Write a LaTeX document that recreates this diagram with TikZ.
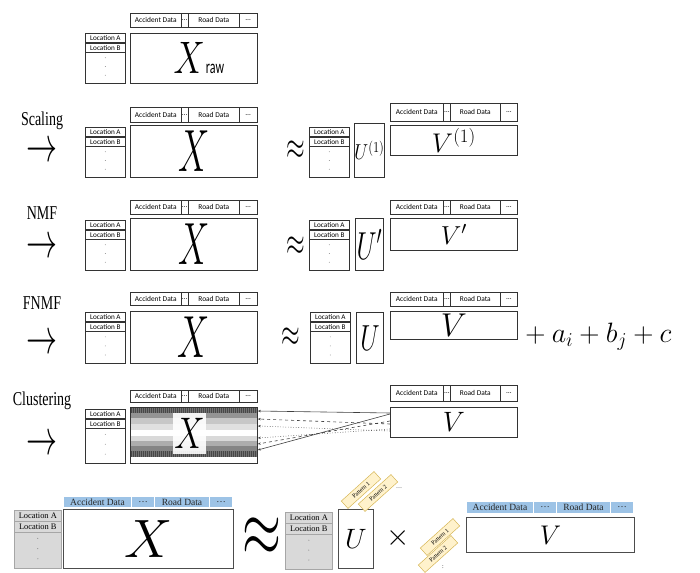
\RequirePackage{fix-cm}
\documentclass[tikz,border=0pt]{standalone}
\usepackage{fontspec}
\usepackage{graphicx}
\newfontfamily\hdrfont{Carlito}
\newfontfamily\tnrfont{Liberation Serif}
\usetikzlibrary{calc,arrows.meta}
\definecolor{hdrblue}{HTML}{9DC3E6}
\definecolor{locgray}{HTML}{D9D9D9}
\definecolor{tagfill}{HTML}{FFF2CC}
\definecolor{tagline}{HTML}{D6B656}
\newcommand\fsz[1]{\fontsize{#1}{#1}\selectfont}
\newcommand\ystr[2]{\scalebox{1}[#1]{#2}}

% one header strip: name, x, y, height, four cell widths, cell style
\newcommand\hdrrow[9]{%
  \node[#9, minimum width=#5, minimum height=#4] (#1a) at (#2,#3) {Accident Data};
  \node[#9, minimum width=#6, minimum height=#4] (#1b) at ({#2+#5},#3) {\ldots};
  \node[#9, minimum width=#7, minimum height=#4] (#1c) at ({#2+#5+#6},#3) {Road Data};
  \node[#9, minimum width=#8, minimum height=#4] (#1d) at ({#2+#5+#6+#7},#3) {\ldots};
}
% one location column: name, x, y, width, height, variant (top/bot)
\newcommand\loccol[6]{%
  \node[#6box, minimum width=#4, minimum height=#5] (#1) at (#2,#3) {};
  \node[#6cell, minimum width=#4] (#1a) at (#2,#3) {Location A};
  \node[#6cell, minimum width=#4] (#1b) at (#1a.south west) {Location B};
  \node[#6dot] (#1p) at ($(#1b.south)!0.17!(#1.south)$) {};
  \node[#6dot] (#1q) at ($(#1b.south)!0.45!(#1.south)$) {};
  \node[#6dot] (#1r) at ($(#1b.south)!0.73!(#1.south)$) {};
}

\tikzset{
  mbox/.style={draw=black!80, line width=0.8pt, inner sep=0pt, anchor=north west},
  hcell/.style={draw=black!80, line width=0.6pt, inner sep=0pt, anchor=north west,
    font=\hdrfont\fsz{7.4}},
  bcell/.style={draw=white, line width=1pt, fill=hdrblue, inner sep=0pt,
    anchor=north west, font=\tnrfont\fsz{9.5}, text=black!85},
  topbox/.style={draw=black!80, line width=0.7pt, anchor=north west, inner sep=0pt},
  topcell/.style={draw=black!80, line width=0.7pt, anchor=north west, inner sep=0pt,
    minimum height=9, font=\hdrfont\fsz{7.2}},
  topdot/.style={circle, fill=black!45, inner sep=0pt, minimum size=0.9pt},
  botbox/.style={draw=black!35, fill=locgray, line width=0.6pt, anchor=north west, inner sep=0pt},
  botcell/.style={draw=black!35, fill=locgray, line width=0.6pt, anchor=north west,
    inner sep=0pt, minimum height=10.5, font=\tnrfont\fsz{8.4}},
  botdot/.style={circle, fill=black!55, inner sep=0pt, minimum size=1pt},
  lbl/.style={font=\tnrfont\fsz{14}},
  arr/.style={font=\fsz{31}},
  approx/.style={font=\fsz{24}},
  carr/.style={draw=black!75, line width=0.6pt, -{Stealth[length=3pt,width=2.4pt]}},
  tag/.style={draw=tagline, fill=tagfill, line width=0.5pt, rotate=42,
    minimum width=44, minimum height=10, inner sep=0pt, font=\tnrfont\fsz{6}},
}

\begin{document}
\begin{tikzpicture}[x=1pt,y=-1pt]
\useasboundingbox (0,0) rectangle (700,572);

% ---------- raw data ----------
\hdrrow{h1}{130}{13}{14}{51}{7}{51}{18}{hcell}
\node[mbox, minimum width=127, minimum height=50] (X1) at (130,33)
  {\hspace{10pt}\fsz{35}\ystr{1.3}{$X$}\kern1pt\ystr{1.6}{\hdrfont\fsz{12}raw}};
\loccol{L1}{85}{33}{40}{50}{top}

% ---------- scaling ----------
\node[lbl] (s2) at (42,121) {\ystr{1.4}{Scaling}};
\node[arr] (a2) at (42,152) {\ystr{1.6}{$\rightarrow$}};
\hdrrow{h2}{130}{107}{15}{51}{7}{51}{18}{hcell}
\node[mbox, minimum width=127, minimum height=52, font=\fsz{35}] (X2) at (130,125) {\ystr{1.7}{$X$}};
\loccol{L2}{85}{127}{40}{50}{top}
\node[approx] (p2) at (296,150) {\ystr{1.6}{$\approx$}};
\loccol{M2}{309}{127}{40}{50}{top}
\node[mbox, minimum width=29, minimum height=54, font=\fsz{18}] (U2) at (354,123) {\ystr{1.2}{$U^{(1)}$}};
\hdrrow{g2}{390}{103}{18}{53}{7}{50}{17}{hcell}
\node[mbox, minimum width=127, minimum height=30, font=\fsz{27}] (V2) at (390,125) {$V^{(1)}$};

% ---------- NMF ----------
\node[lbl] (s3) at (42,213) {\ystr{1.4}{NMF}};
\node[arr] (a3) at (42,248) {\ystr{1.6}{$\rightarrow$}};
\hdrrow{h3}{130}{200}{14}{51}{7}{51}{18}{hcell}
\node[mbox, minimum width=127, minimum height=52, font=\fsz{35}] (X3) at (130,218) {\ystr{1.7}{$X$}};
\loccol{L3}{85}{220}{40}{50}{top}
\node[approx] (p3) at (296,246) {\ystr{1.6}{$\approx$}};
\loccol{M3}{309}{220}{40}{50}{top}
\node[mbox, minimum width=28, minimum height=52, font=\fsz{26}] (U3) at (355,218) {\ystr{1.5}{$U'$}};
\hdrrow{g3}{390}{200}{14}{53}{7}{50}{17}{hcell}
\node[mbox, minimum width=127, minimum height=32, font=\fsz{26}] (V3) at (390,218) {$V'$};

% ---------- FNMF ----------
\node[lbl] (s4) at (42,303) {\ystr{1.4}{FNMF}};
\node[arr] (a4) at (42,344) {\ystr{1.6}{$\rightarrow$}};
\hdrrow{h4}{130}{292}{13}{51}{7}{51}{18}{hcell}
\node[mbox, minimum width=127, minimum height=52, font=\fsz{36}] (X4) at (130,311) {\ystr{1.65}{$X$}};
\loccol{L4}{85}{312}{40}{51}{top}
\node[approx] (p4) at (291,337) {\ystr{1.6}{$\approx$}};
\loccol{M4}{310}{312}{40}{51}{top}
\node[mbox, minimum width=27, minimum height=51, font=\fsz{25}] (U4) at (356,312) {\ystr{1.45}{$U$}};
\hdrrow{g4}{390}{292}{14}{53}{7}{50}{17}{hcell}
\node[mbox, minimum width=127, minimum height=28, font=\fsz{33}] (V4) at (390,311) {$V$};
\node[anchor=base west, font=\fsz{28}, inner sep=0pt] (bias) at (519,342) {${}+a_i+b_j+c$};

% ---------- clustering ----------
\node[lbl] (s5) at (42,401) {\ystr{1.4}{Clustering}};
\node[arr] (a5) at (42,445) {\ystr{1.6}{$\rightarrow$}};
\hdrrow{h5}{130}{390}{12}{51}{7}{51}{18}{hcell}
% grey bands of the clustered rows
\foreach \ya/\yb/\c in {407/413/55, 413/418/42, 418/424/22, 424/430/12, 430/436/0,
                        436/441/15, 441/446/32, 446/451/48, 451/457/55, 457/463/0}
  \fill[black!\c] (130,\ya) rectangle (257,\yb);
\foreach \xx in {131,133,...,256} {
  \draw[black!72, line width=0.4pt] (\xx,407) -- (\xx,413);
  \draw[black!72, line width=0.4pt] (\xx,451) -- (\xx,457);
}
\node[mbox, minimum width=127, minimum height=56] (X5) at (130,407) {};
\node[fill=white, fill opacity=0.9, text opacity=1, inner sep=0pt,
      minimum width=33, minimum height=41, font=\fsz{34}] (X5t) at (189.5,433.5) {\ystr{1.3}{$X$}};
\loccol{L5}{85}{409}{40}{54}{top}
\hdrrow{g5}{390}{385}{16}{53}{7}{50}{17}{hcell}
\node[mbox, minimum width=127, minimum height=30, font=\fsz{28}] (V5) at (390,407) {$V$};
\draw[carr] ($(V5.north west)+(0,6)$)  -- ($(X5.north east)+(0,4)$);
\draw[carr, dashed] ($(V5.north west)+(0,17)$) -- ($(X5.north east)+(0,12)$);
\draw[carr, dotted] ($(V5.north west)+(0,24)$) -- ($(X5.north east)+(0,19)$);
\draw[carr, dotted] ($(V5.north west)+(0,22)$) -- ($(X5.north east)+(0,31)$);
\draw[carr, dashed] ($(V5.north west)+(0,14)$) -- ($(X5.north east)+(0,37)$);
\draw[carr] ($(V5.north west)+(0,7)$)  -- ($(X5.north east)+(0,43)$);

% ---------- factor model ----------
\hdrrow{h6}{63}{496}{11}{68}{23}{55}{23}{bcell}
\node[mbox, draw=black!70, minimum width=170, minimum height=59, font=\fsz{54}] (X6) at (63,509) {$X$};
\loccol{L6}{14}{510}{47}{58}{bot}
\node[font=\fsz{50}] (p6) at (262,537) {\ystr{1.6}{$\approx$}};
\loccol{M6}{285}{512}{47}{57}{bot}
\node[mbox, draw=black!70, minimum width=35, minimum height=59, font=\fsz{28}] (U6) at (338,509) {$U$};
\node[font=\fsz{30}] (m6) at (398,538) {$\times$};
\hdrrow{g6}{466}{501}{12}{67}{23}{54}{23}{bcell}
\node[mbox, draw=black!70, minimum width=168, minimum height=35, font=\fsz{27}] (V6) at (466,517) {$V$};
\node[tag] (t1) at (361,490) {Pattern 1};
\node[tag] (t2) at (378,493) {Pattern 2};
\node[font=\tnrfont\fsz{6}] (t3) at (399,488) {\ldots};
\node[tag] (t4) at (440,537) {Pattern 1};
\node[tag] (t5) at (438,554) {Pattern 2};
\node[font=\tnrfont\fsz{6}] (t6) at (443,567) {:};
\end{tikzpicture}
\end{document}
